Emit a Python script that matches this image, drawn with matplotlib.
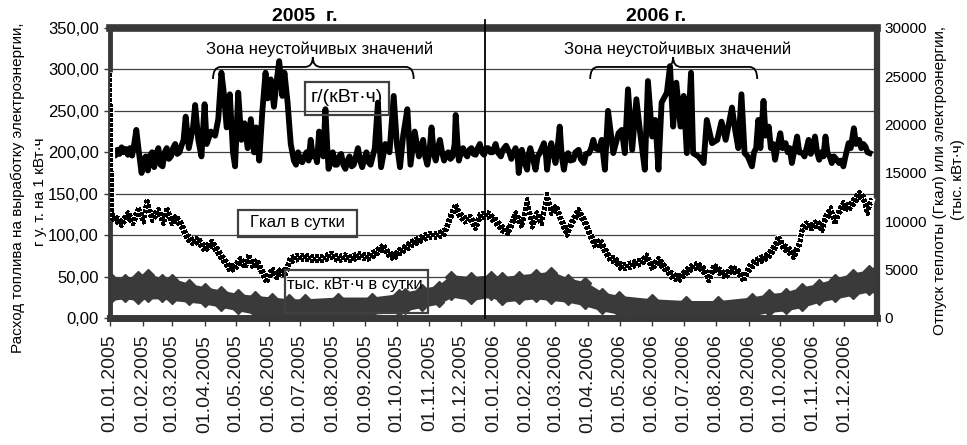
import numpy as np
import matplotlib
matplotlib.use("Agg")
import matplotlib.pyplot as plt
from matplotlib.path import Path
from matplotlib.patches import PathPatch, Rectangle
from matplotlib.transforms import offset_copy
from matplotlib.ticker import FuncFormatter, FixedLocator

# --- data (x = days since 01.01.2005) ---
# specific fuel consumption, g/(kWh), left axis
g_days = [1, 3, 5, 7, 9, 11, 13, 15, 17, 19, 21, 23, 25, 27, 29, 30, 32, 34, 36, 38,
          40, 42, 44, 46, 48, 50, 52, 54, 56, 58, 60, 62, 64, 66, 68, 70, 72, 75, 79, 81,
          84, 87, 90, 92, 96, 100, 103, 106, 108, 111, 114, 117, 119, 122, 125, 128, 131, 134, 137, 139,
          142, 145, 148, 150, 153, 156, 159, 161, 164, 166, 169, 172, 175, 177, 179, 181, 183, 185, 187, 189,
          191, 193, 195, 197, 199, 201, 203, 205, 207, 208, 210, 212, 214, 216, 218, 220, 222, 224, 226, 228,
          230, 232, 234, 236, 238, 240, 242, 244, 246, 248, 250, 252, 255, 257, 258, 262, 266, 270, 273, 276,
          279, 283, 286, 290, 294, 298, 300, 302, 304, 306, 308, 310, 312, 314, 316, 318, 320, 322, 324, 326,
          328, 329, 331, 332, 334, 336, 338, 340, 342, 344, 346, 348, 350, 352, 354, 356, 358, 360, 362, 364,
          367, 369, 372, 374, 377, 380, 382, 384, 386, 388, 389, 391, 392, 394, 397, 398, 400, 402, 405, 407,
          409, 411, 413, 415, 416, 418, 420, 422, 424, 426, 428, 430, 432, 434, 436, 438, 441, 443, 446, 448,
          451, 453, 456, 458, 460, 462, 465, 467, 468, 470, 471, 474, 479, 484, 487, 490, 493, 497, 501, 505,
          509, 512, 516, 519, 522, 525, 530, 533, 536, 539, 543, 546, 549, 553, 555, 560, 565, 568, 573, 578,
          582, 586, 592, 595, 598, 601, 604, 607, 611, 613, 615, 617, 619, 622, 624, 627, 629, 631, 633, 635,
          638, 640, 643, 645, 647, 649, 651, 654, 656, 659, 661, 663, 665, 667, 669, 671, 673, 675, 677, 679,
          681, 683, 685, 687, 689, 691, 694, 696, 698, 700, 703, 705, 708, 710, 713, 715, 717, 719, 721, 723]
g_vals = [187, 200, 196, 203, 198, 206, 200, 204, 197, 205, 196, 210, 227, 205, 185, 175, 190, 195, 178, 196,
          200, 182, 198, 205, 185, 183, 200, 205, 192, 195, 205, 210, 198, 200, 208, 215, 243, 205, 230, 257,
          215, 195, 258, 210, 225, 220, 240, 296, 275, 230, 270, 200, 183, 272, 215, 235, 205, 240, 200, 230,
          190, 250, 296, 265, 288, 255, 290, 310, 268, 296, 260, 210, 190, 185, 200, 190, 188, 195, 200, 190,
          215, 195, 200, 188, 225, 200, 195, 252, 200, 180, 192, 200, 185, 185, 195, 198, 185, 180, 190, 195,
          183, 185, 195, 205, 190, 182, 192, 200, 188, 185, 195, 205, 260, 200, 182, 210, 200, 268, 210, 182,
          220, 252, 185, 225, 195, 215, 195, 185, 200, 230, 200, 190, 205, 215, 200, 190, 198, 200, 192, 195,
          210, 245, 205, 190, 200, 205, 198, 195, 203, 205, 198, 197, 205, 210, 200, 197, 205, 205, 200, 200,
          210, 200, 195, 203, 208, 200, 192, 200, 205, 195, 175, 195, 203, 190, 179, 195, 205, 195, 179, 195,
          199, 205, 211, 195, 179, 200, 211, 200, 187, 205, 231, 195, 179, 195, 199, 190, 191, 200, 203, 192,
          187, 198, 199, 205, 215, 205, 203, 210, 215, 190, 179, 250, 199, 223, 227, 199, 276, 203, 264, 219,
          179, 286, 219, 239, 179, 260, 272, 304, 231, 284, 231, 268, 199, 296, 199, 195, 187, 239, 211, 215,
          237, 215, 254, 227, 205, 270, 199, 195, 183, 200, 205, 239, 205, 262, 220, 231, 205, 210, 191, 205,
          223, 205, 211, 200, 205, 187, 200, 219, 200, 199, 195, 205, 215, 198, 205, 219, 200, 191, 200, 195,
          219, 198, 195, 187, 195, 192, 187, 190, 183, 195, 211, 205, 229, 210, 215, 205, 210, 207, 200, 199]

# heat output, Gcal per day, right axis
gcal_days = [0, 2, 5, 11, 17, 22, 27, 32, 35, 40, 46, 51, 54, 59, 63, 68, 73, 79, 84, 90,
             97, 102, 106, 111, 114, 119, 124, 129, 132, 136, 140, 144, 149, 154, 159, 163, 167, 171, 176, 186,
             192, 202, 211, 217, 224, 230, 236, 246, 252, 260, 265, 270, 275, 281, 287, 294, 300, 306, 313, 319,
             324, 329, 333, 338, 343, 348, 352, 357, 360, 366, 373, 379, 386, 392, 397, 402, 406, 411, 416, 420,
             425, 430, 435, 440, 446, 452, 457, 462, 467, 471, 476, 481, 487, 494, 500, 506, 511, 516, 522, 529,
             535, 541, 548, 554, 560, 567, 570, 575, 579, 586, 592, 598, 603, 608, 614, 621, 627, 633, 636, 641,
             646, 651, 656, 659, 663, 668, 673, 678, 681, 686, 690, 694, 698, 703, 708, 713, 717, 721, 724]
gcal_vals = [25000, 10500, 10300, 9800, 10660, 9960, 11180, 10140, 12050, 10310, 11010, 9960, 11180, 9960, 10310, 9620, 8400, 7870, 8050, 7180,
             7700, 7000, 6310, 5610, 5090, 5260, 5960, 5440, 6310, 5440, 5780, 4910, 3900, 4910, 4390, 4910, 4560, 5960, 6200, 6310,
             6130, 6130, 6480, 6130, 6310, 6130, 6480, 6310, 6650, 7350, 6650, 6310, 6830, 7180, 7700, 8050, 8400, 8570, 8570, 8920,
             10490, 11530, 10660, 10140, 10310, 9440, 10490, 10660, 10660, 10140, 9270, 8920, 10660, 9620, 12050, 9620, 10660, 9960, 12580, 11010,
             11360, 9960, 8750, 9960, 11010, 9960, 8570, 7530, 7870, 7000, 6130, 5960, 5260, 5440, 5610, 5780, 6310, 5260, 5960, 5090,
             4390, 4040, 4740, 5260, 5440, 4740, 4040, 5260, 4910, 4390, 5090, 4740, 4040, 5090, 5780, 6130, 6480, 7350, 8220, 7350,
             7000, 6480, 7530, 9270, 9620, 9440, 9790, 9270, 10310, 11180, 9960, 11010, 11710, 11360, 12060, 12750, 12400, 11010, 12060]

# electricity output, thousand kWh per day, right axis (daily spread: low/high edge)
kwh_days = [0, 14, 27, 36, 49, 59, 75, 90, 106, 122, 138, 154, 170, 186, 217, 249, 275, 281, 297, 313,
            325, 344, 363, 373, 389, 405, 420, 436, 452, 468, 484, 516, 548, 579, 611, 627, 643, 659, 675, 690,
            707, 722, 729]
kwh_low = [1990, 2160, 1990, 2160, 2160, 1990, 1810, 1630, 1280, 920, 570, 390, 390, 390, 390, 570, 750, 920, 1280, 1630,
           2340, 1990, 2340, 1810, 1990, 2160, 1990, 1810, 1450, 920, 570, 390, 390, 390, 390, 750, 920, 1280, 1810, 2160,
           2520, 2870, 2900]
kwh_high = [4110, 3940, 4290, 4470, 3940, 3940, 3400, 3050, 2700, 2340, 2160, 1990, 1810, 1810, 1990, 1990, 2340, 2520, 2870, 3230,
            4290, 4110, 4290, 4110, 4290, 4470, 4650, 3940, 3580, 2520, 2160, 1810, 1630, 1630, 1990, 2340, 2520, 3050, 3400, 3940,
            4470, 4820, 4900]

left_ticks = [0, 50, 100, 150, 200, 250, 300, 350]
right_ticks = [0, 5000, 10000, 15000, 20000, 25000, 30000]
year_split_day = 357

months = np.arange(np.datetime64("2005-01"), np.datetime64("2007-02"), dtype="datetime64[M]")
tick_days = (months.astype("datetime64[D]") - np.datetime64("2005-01-01")).astype(int)
tick_labels = ["01.%s.%s" % (str(m)[5:7], str(m)[:4]) for m in months[:-1]] + [""]

NARROW = ["Liberation Sans Narrow", "Liberation Sans", "DejaVu Sans"]
REG = ["Liberation Sans", "DejaVu Sans"]
FRAME = "#383838"
BAND = "#3a3a3a"

fig = plt.figure(figsize=(9.67, 4.45), dpi=100)
ax = fig.add_axes([0.1138, 0.2854, 0.7931, 0.6517])
ax2 = ax.twinx()

ax.set_xlim(0, 730)
ax.set_ylim(0, 350)
ax2.set_ylim(0, 30000)

# grid
ax.yaxis.grid(True, color="#404040", lw=0.9)
ax.set_axisbelow(True)

# series
ax.plot(g_days, g_vals, color="black", lw=4.2, solid_joinstyle="round", zorder=3)

ax2.fill_between(kwh_days, kwh_low, kwh_high, color=BAND, lw=2.5, edgecolor=BAND, zorder=2)
ax2.plot(kwh_days, kwh_high, ls="none", marker="D", ms=6, color=BAND, zorder=2)
ax2.plot(kwh_days, kwh_low, ls="none", marker="D", ms=5, color=BAND, zorder=2)

# checkered line for Gcal
ax2.plot(gcal_days, gcal_vals, color="white", lw=5.6, solid_joinstyle="round", zorder=3)
for dy, off in [(-1.85, 0), (0, 1), (1.85, 0)]:
    tr = offset_copy(ax2.transData, fig=fig, x=0, y=dy, units="points")
    ax2.plot(gcal_days, gcal_vals, color="black", lw=1.85, ls=(off, (1, 1)),
             transform=tr, zorder=3.1, antialiased=False)

# year separator
ax2.axvline(year_split_day, ymin=0, ymax=1.028, color="black", lw=1.3, clip_on=False, zorder=4)

# frame
for s in ax.spines.values():
    s.set_visible(False)
for name, w in [("top", 5.5), ("bottom", 5.0), ("left", 3.5), ("right", 4.5)]:
    ax2.spines[name].set_color(FRAME)
    ax2.spines[name].set_linewidth(w)

# ticks
ax.yaxis.set_major_locator(FixedLocator(left_ticks))
ax.yaxis.set_major_formatter(FuncFormatter(lambda v, p: ("%.2f" % v).replace(".", ",")))
ax.tick_params(axis="y", length=4, width=1, pad=4, color=FRAME)
for t in ax.get_yticklabels():
    t.set_family(NARROW)
    t.set_fontsize(12)

ax2.yaxis.set_major_locator(FixedLocator(right_ticks))
ax2.yaxis.set_major_formatter(FuncFormatter(lambda v, p: "%d" % v))
ax2.tick_params(axis="y", length=5, width=3, pad=3, color=FRAME, direction="inout")
for t in ax2.get_yticklabels():
    t.set_family(NARROW)
    t.set_fontsize(11)

ax.set_xticks(tick_days)
ax.set_xticklabels(tick_labels, rotation=90, family=REG, fontsize=14, color="#1a1a1a")
ax.tick_params(axis="x", length=6, width=1, pad=6, color=FRAME)

# axis titles
fig.text(0.0186, 0.5775, "Расход топлива на выработку электроэнергии,", rotation=90,
         ha="center", va="center", family=REG, fontsize=11)
fig.text(0.0414, 0.5685, "г у. т. на 1 кВт·ч", rotation=90,
         ha="center", va="center", family=REG, fontsize=11)
fig.text(0.9721, 0.5955, "Отпуск теплоты (Гкал) или электроэнергии,", rotation=90,
         ha="center", va="center", family=REG, fontsize=11)
fig.text(0.9907, 0.5955, "(тыс. кВт·ч)", rotation=90,
         ha="center", va="center", family=REG, fontsize=11)

fig.text(0.3154, 0.964, "2005  г.", ha="center", va="center", family=NARROW,
         fontsize=14, fontweight="bold")
fig.text(0.678, 0.964, "2006 г.", ha="center", va="center", family=NARROW,
         fontsize=14, fontweight="bold")

for xc in [0.2738, 0.7405]:
    ax2.text(xc, 0.9276, "Зона неустойчивых значений", transform=ax2.transAxes,
             ha="center", va="center", family=NARROW, fontsize=12, zorder=5)


def brace(x0, xm, x1, y, h=14.5, t=12.0, r=7.5):
    verts = [(x0, y - h), (x0, y), (x0 + r, y), (xm - r, y), (xm, y), (xm, y + t),
             (x1, y - h), (x1, y), (x1 - r, y), (xm + r, y), (xm, y), (xm, y + t)]
    codes = [Path.MOVETO, Path.CURVE3, Path.CURVE3, Path.LINETO, Path.CURVE3, Path.CURVE3] * 2
    ax.add_patch(PathPatch(Path(verts, codes), fc="none", ec="black", lw=1.3, zorder=5))


brace(98, 193, 289, 303)
brace(457, 536, 616, 303)

# legend-like boxes
boxes = [((0.2542, 0.700), 0.1095, 0.1138),
         ((0.1669, 0.2793), 0.1551, 0.0931),
         ((0.2282, 0.0172), 0.1864, 0.1483)]
for (x0, y0), w, h in boxes:
    ax2.add_patch(Rectangle((x0, y0), w, h, transform=ax2.transAxes, fc="none",
                            ec="#404040", lw=1.6, zorder=5))
ax2.text(0.309, 0.759, "г/(кВт·ч)", transform=ax2.transAxes, ha="center", va="center",
         family=NARROW, fontsize=14, zorder=6)
ax2.text(0.2438, 0.3276, "Гкал в сутки", transform=ax2.transAxes, ha="center", va="center",
         family=NARROW, fontsize=12, zorder=6)
ax2.text(0.2305, 0.1138, "тыс. кВт·ч в сутки", transform=ax2.transAxes, ha="left", va="center",
         family=NARROW, fontsize=12, zorder=6)

fig.savefig("out.png", dpi=100)
